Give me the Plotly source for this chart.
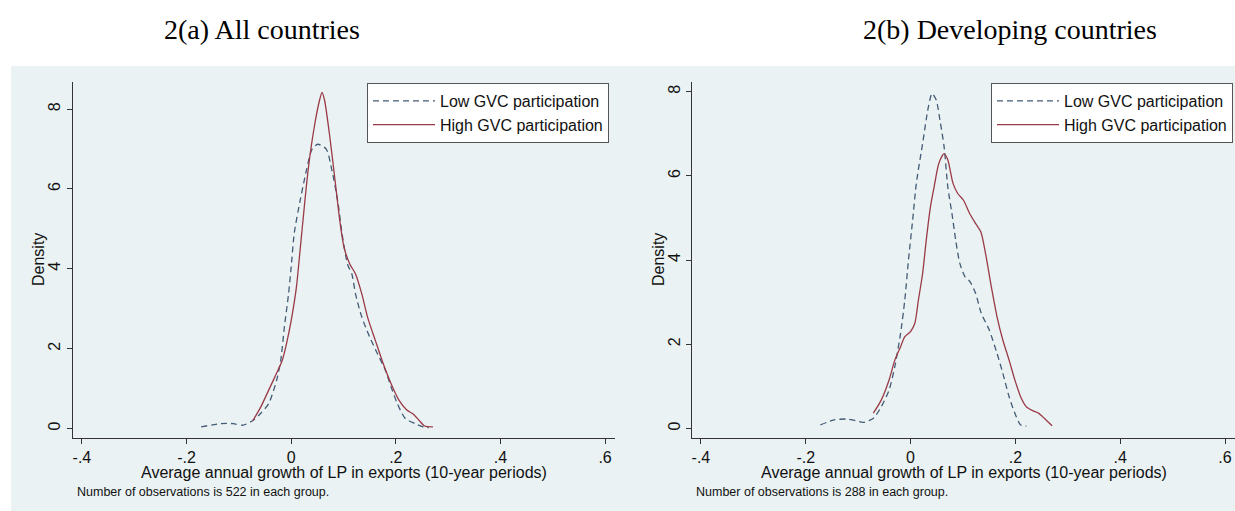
import plotly.graph_objects as go

# ---------------- data ----------------
tick_vals_x = [-0.4, -0.2, 0, 0.2, 0.4, 0.6]
tick_text_x = ["-.4", "-.2", "0", ".2", ".4", ".6"]
tick_vals_y = [0, 2, 4, 6, 8]
tick_text_y = ["0", "2", "4", "6", "8"]

# Panel (a) All countries
a_low_x = [-0.172, -0.134, -0.111, -0.092, -0.073, -0.058, -0.043, -0.028, -0.020, -0.013,
           -0.005, 0.000, 0.006, 0.017, 0.029, 0.040, 0.051, 0.067, 0.078, 0.089,
           0.097, 0.108, 0.116, 0.123, 0.135, 0.150, 0.165, 0.180, 0.191, 0.203,
           0.218, 0.237, 0.252, 0.263]
a_low_y = [0.04, 0.12, 0.12, 0.08, 0.20, 0.38, 0.62, 1.20, 1.70, 2.54,
           3.37, 4.04, 4.90, 5.70, 6.46, 7.00, 7.12, 7.00, 6.46, 5.70,
           4.90, 4.10, 3.87, 3.37, 2.79, 2.29, 1.87, 1.46, 1.04, 0.62,
           0.25, 0.12, 0.04, 0.02]
a_high_x = [-0.073, -0.058, -0.043, -0.028, -0.017, -0.009, 0.000, 0.010, 0.017, 0.025,
            0.033, 0.044, 0.054, 0.059, 0.064, 0.074, 0.084, 0.093, 0.101, 0.112,
            0.123, 0.135, 0.146, 0.161, 0.176, 0.191, 0.206, 0.221, 0.233, 0.244,
            0.255, 0.271]
a_high_y = [0.20, 0.54, 0.96, 1.38, 1.71, 2.12, 2.70, 3.54, 4.46, 5.54,
            6.54, 7.54, 8.21, 8.42, 8.21, 7.29, 6.20, 5.20, 4.54, 4.12,
            3.87, 3.37, 2.79, 2.20, 1.62, 1.12, 0.71, 0.46, 0.36, 0.21,
            0.06, 0.04]

# Panel (b) Developing countries
b_low_x = [-0.172, -0.146, -0.120, -0.105, -0.090, -0.071, -0.056, -0.041, -0.030, -0.019,
           -0.011, -0.004, 0.004, 0.011, 0.023, 0.034, 0.041, 0.049, 0.056, 0.064,
           0.071, 0.079, 0.086, 0.094, 0.104, 0.113, 0.124, 0.135, 0.150, 0.165,
           0.176, 0.188, 0.199, 0.210, 0.221]
b_low_y = [0.08, 0.20, 0.22, 0.18, 0.14, 0.24, 0.51, 0.91, 1.47, 2.26,
           3.05, 4.00, 4.95, 5.82, 6.77, 7.64, 7.96, 7.80, 7.33, 6.69,
           5.74, 5.10, 4.48, 3.92, 3.60, 3.49, 3.21, 2.73, 2.34, 1.78,
           1.31, 0.75, 0.36, 0.08, 0.05]
b_high_x = [-0.071, -0.056, -0.041, -0.030, -0.019, -0.011, 0.000, 0.008, 0.015, 0.023,
            0.030, 0.038, 0.045, 0.054, 0.064, 0.071, 0.081, 0.090, 0.101, 0.113,
            0.124, 0.134, 0.143, 0.154, 0.165, 0.176, 0.188, 0.199, 0.210, 0.221,
            0.233, 0.244, 0.255, 0.270]
b_high_y = [0.36, 0.67, 1.15, 1.62, 1.94, 2.18, 2.30, 2.49, 3.05, 3.68,
            4.48, 5.27, 5.74, 6.30, 6.53, 6.38, 5.82, 5.58, 5.42, 5.10,
            4.87, 4.67, 4.16, 3.37, 2.65, 2.10, 1.62, 1.15, 0.75, 0.51,
            0.42, 0.36, 0.24, 0.06]

series_names = ["Low GVC participation", "High GVC participation"]
panel_titles = ["2(a) All countries", "2(b) Developing countries"]
x_title = "Average annual growth of LP in exports (10-year periods)"
y_title = "Density"
notes = ["Number of observations is 522 in each group.",
         "Number of observations is 288 in each group."]

# ---------------- styling ----------------
W, H = 1235, 511
LOW_COLOR = "#435b76"
HIGH_COLOR = "#9a3a47"
BG = "#EAF2F3"
FONT = "Liberation Sans, Arial, sans-serif"

def px_x(p):
    return p / W

def px_y(p):
    return (H - p) / H

fig = go.Figure()

for i, (lx, ly, hx, hy) in enumerate([(a_low_x, a_low_y, a_high_x, a_high_y),
                                      (b_low_x, b_low_y, b_high_x, b_high_y)]):
    xa = "x" if i == 0 else "x2"
    ya = "y" if i == 0 else "y2"
    lg = "legend" if i == 0 else "legend2"
    fig.add_trace(go.Scatter(x=lx, y=ly, mode="lines", name=series_names[0],
                             line=dict(color=LOW_COLOR, width=1.3, dash="6px,4px",
                                       shape="spline", smoothing=0.7),
                             xaxis=xa, yaxis=ya, legend=lg))
    fig.add_trace(go.Scatter(x=hx, y=hy, mode="lines", name=series_names[1],
                             line=dict(color=HIGH_COLOR, width=1.3,
                                       shape="spline", smoothing=0.7),
                             xaxis=xa, yaxis=ya, legend=lg))

axis_common = dict(showline=True, linecolor="#333333", linewidth=1,
                   ticks="outside", ticklen=5, tickcolor="#333333", tickwidth=1,
                   tickfont=dict(family=FONT, size=16, color="#111111"),
                   zeroline=False)

legend_common = dict(xanchor="right", yanchor="top",
                     bgcolor="white", bordercolor="#555555", borderwidth=1,
                     font=dict(family=FONT, size=16, color="#111111"),
                     itemwidth=62, tracegroupgap=0)

fig.update_layout(
    width=W, height=H, autosize=False,
    margin=dict(l=0, r=0, t=0, b=0),
    paper_bgcolor="white", plot_bgcolor="white",
    xaxis=dict(domain=[px_x(72.5), px_x(615)], range=[-0.418, 0.619],
               tickvals=tick_vals_x, ticktext=tick_text_x, showgrid=False,
               anchor="y", **axis_common),
    yaxis=dict(domain=[px_y(438), px_y(82)], range=[-0.24, 8.68],
               tickvals=tick_vals_y, ticktext=tick_text_y, tickangle=-90,
               showgrid=True, gridcolor=BG, gridwidth=1,
               anchor="x", **axis_common),
    xaxis2=dict(domain=[px_x(692), 1.0], range=[-0.417, 0.619],
                tickvals=tick_vals_x, ticktext=tick_text_x, showgrid=False,
                anchor="y2", **axis_common),
    yaxis2=dict(domain=[px_y(438), px_y(82)], range=[-0.23, 8.23],
                tickvals=tick_vals_y, ticktext=tick_text_y, tickangle=-90,
                showgrid=True, gridcolor=BG, gridwidth=1,
                anchor="x2", **axis_common),
    legend=dict(x=px_x(609), y=px_y(83), **legend_common),
    legend2=dict(x=px_x(1233), y=px_y(83), **legend_common),
    showlegend=True,
)

# graph-region background
fig.add_shape(type="rect", xref="paper", yref="paper",
              x0=px_x(11), x1=1.0, y0=0, y1=px_y(66),
              fillcolor=BG, line=dict(width=0), layer="below")

annotations = []
# panel titles
for txt, cx in zip(panel_titles, [262, 1010]):
    annotations.append(dict(text=txt, x=px_x(cx), y=px_y(29), xref="paper", yref="paper",
                            xanchor="center", yanchor="middle", showarrow=False,
                            font=dict(family="Liberation Serif, Times New Roman, serif",
                                      size=28, color="#000000")))
# axis titles
for cx, ycx in zip([(72.5 + 615) / 2, (692 + 1235) / 2], [38, 658]):
    annotations.append(dict(text=x_title, x=px_x(cx), y=px_y(472), xref="paper", yref="paper",
                            xanchor="center", yanchor="middle", showarrow=False,
                            font=dict(family=FONT, size=16, color="#111111")))
    annotations.append(dict(text=y_title, x=px_x(ycx), y=px_y(260), xref="paper", yref="paper",
                            xanchor="center", yanchor="middle", showarrow=False, textangle=-90,
                            font=dict(family=FONT, size=16, color="#111111")))
# notes
for txt, lx in zip(notes, [75, 694]):
    annotations.append(dict(text=txt, x=px_x(lx), y=px_y(492), xref="paper", yref="paper",
                            xanchor="left", yanchor="middle", showarrow=False,
                            font=dict(family=FONT, size=12.5, color="#111111")))
fig.update_layout(annotations=annotations)

fig.write_html("out.html",
               config={"displayModeBar": False},
               post_script="document.body.style.margin='0';document.body.style.overflow='hidden';")
